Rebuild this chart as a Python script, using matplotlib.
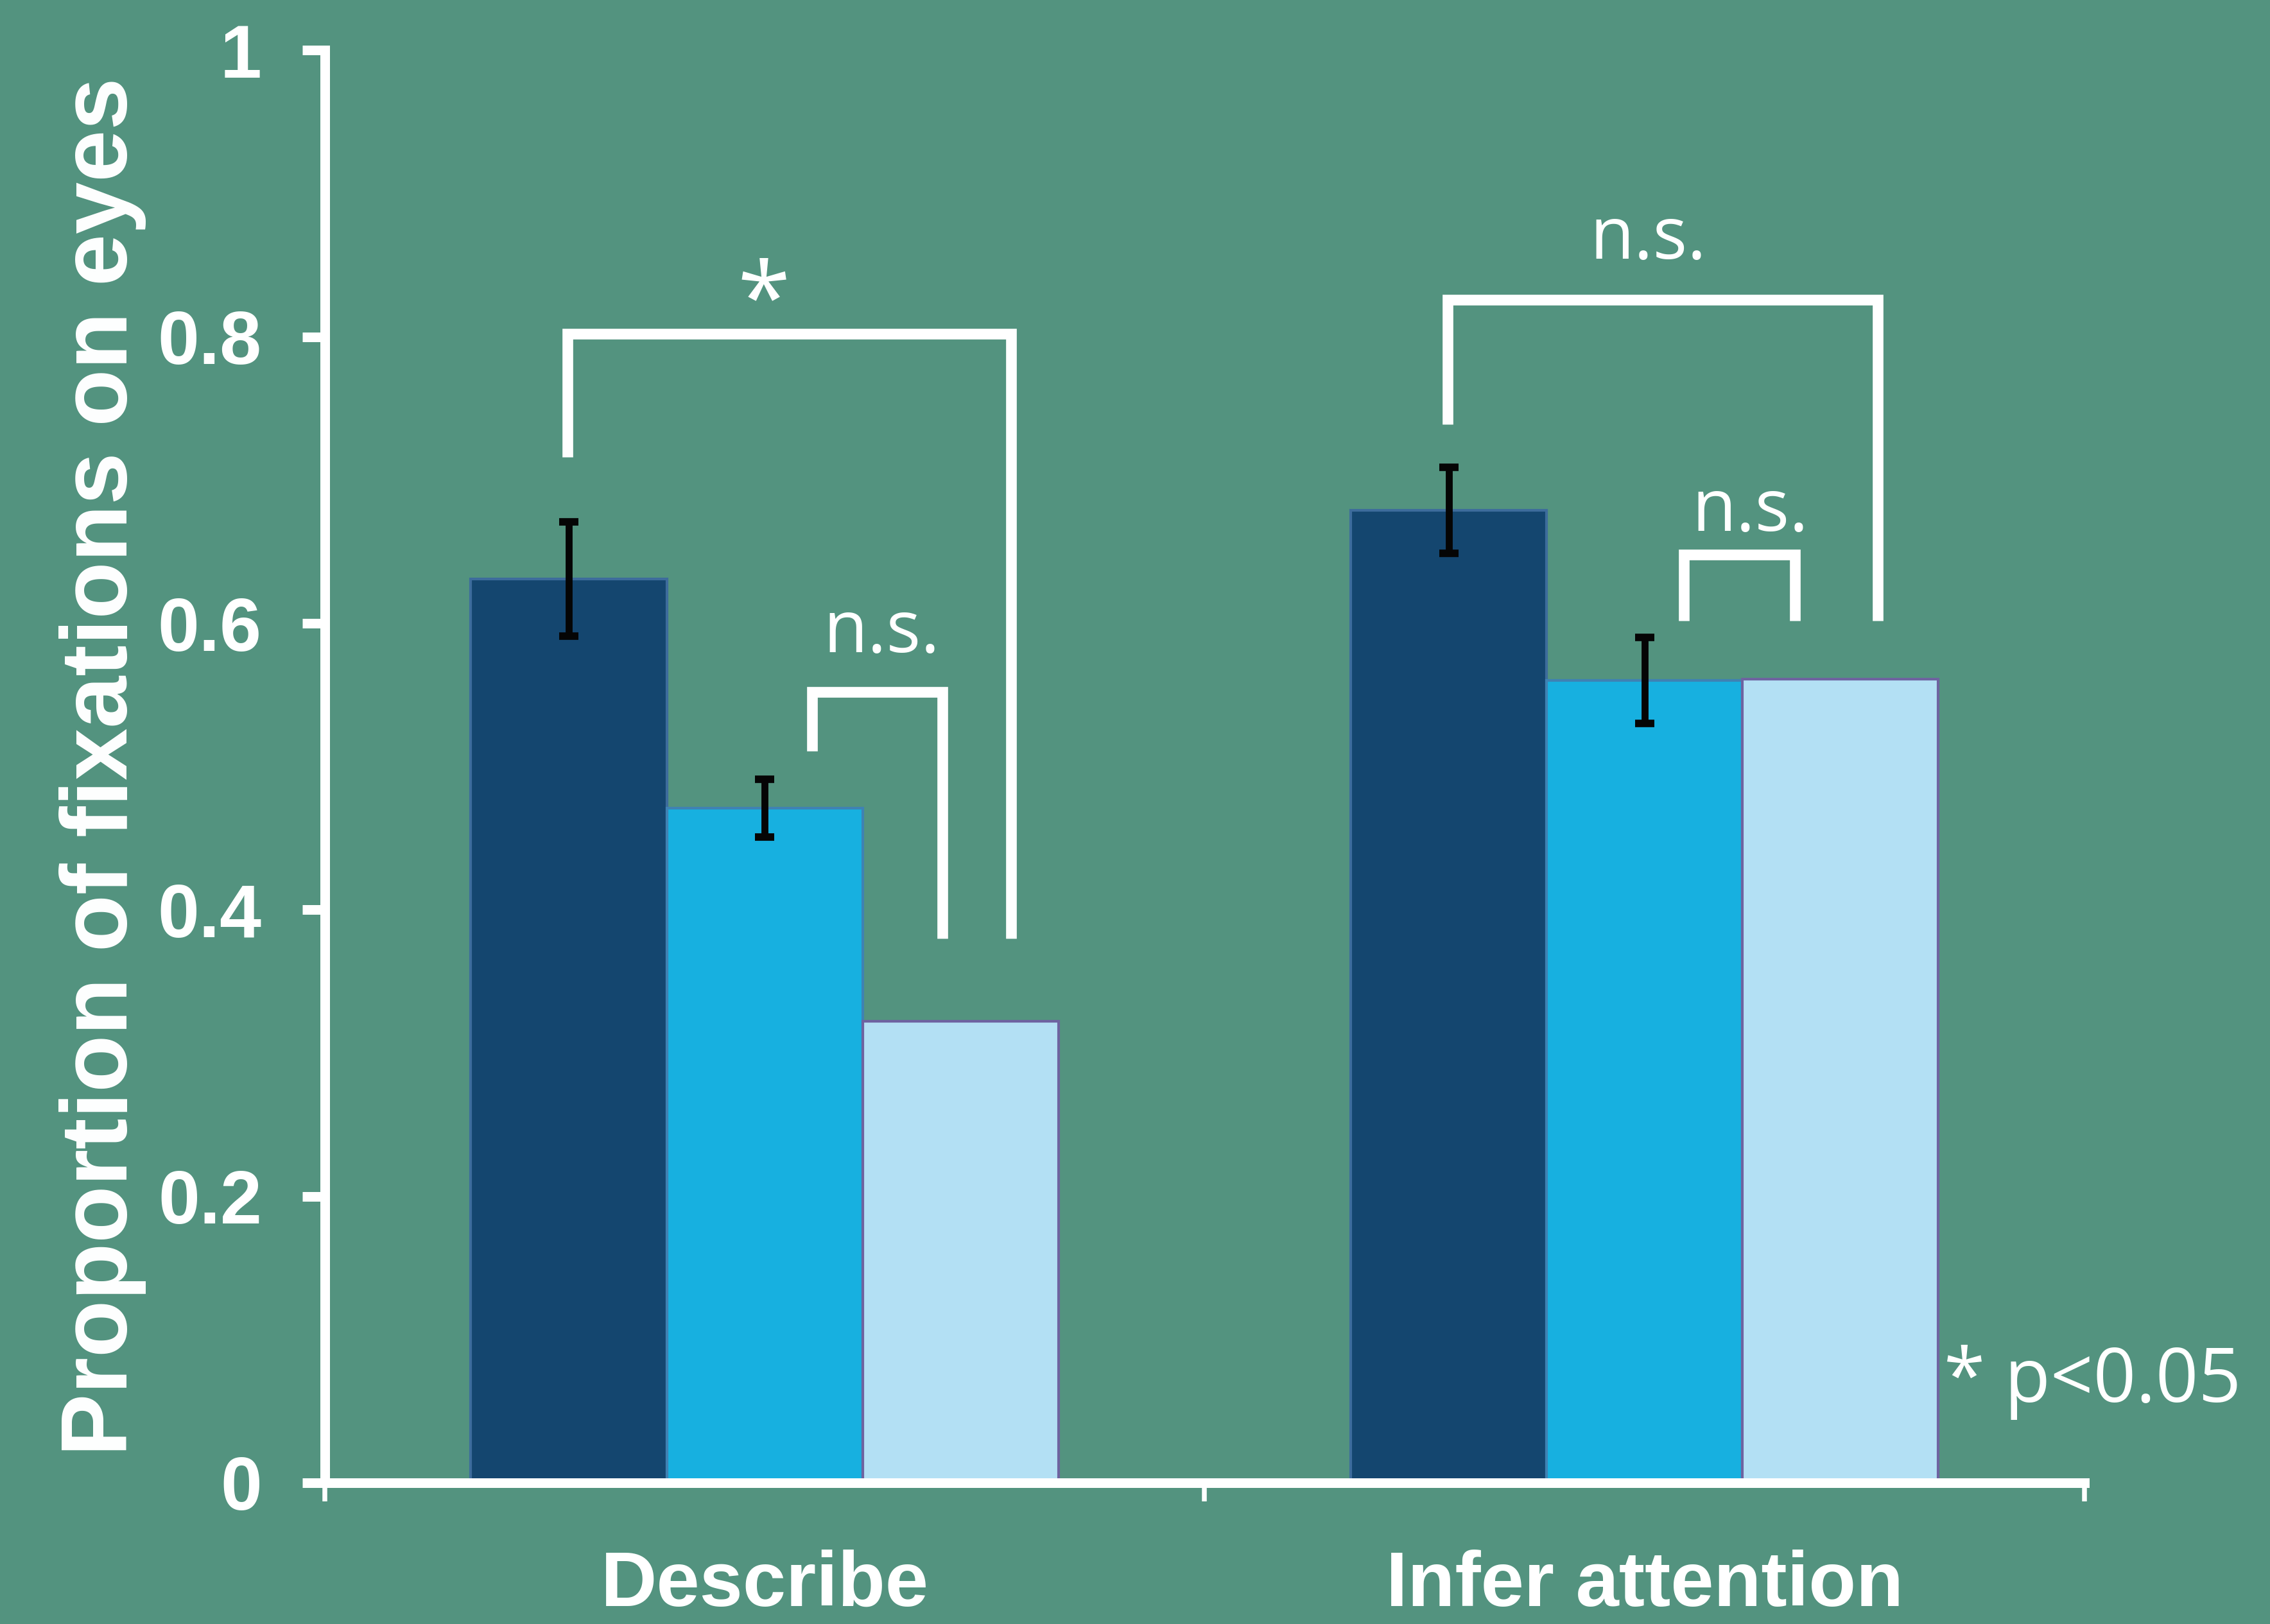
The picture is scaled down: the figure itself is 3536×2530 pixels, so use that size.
import numpy as np
import matplotlib.pyplot as plt

# data
groups = ['Describe', 'Infer attention']
means_dark = [0.631, 0.679]
means_mid = [0.471, 0.560]
means_light = [0.322, 0.561]
err_dark = [0.040, 0.030]
err_mid = [0.020, 0.030]

BG = '#53937f'
C_DARK = '#14466f'
C_MID = '#17b0e0'
C_LIGHT = '#b3e0f4'
NARROW = ['Liberation Sans Narrow', 'Liberation Sans', 'DejaVu Sans']
LABEL_FONT = ['Open Sans', 'DejaVu Sans']

fig = plt.figure(figsize=(3537 / 300, 2530 / 300), dpi=300, facecolor=BG)
ax = fig.add_axes([0.143, 0.087, 0.775, 0.882])
ax.set_facecolor(BG)

centers = np.array([0.5, 1.5])
w = 0.2226

ax.bar(centers - w, means_dark, w, color=C_DARK, edgecolor='#3d6c9c', linewidth=1.0, zorder=2)
ax.bar(centers, means_mid, w, color=C_MID, edgecolor='#3f82b3', linewidth=1.0, zorder=2)
ax.bar(centers + w, means_light, w, color=C_LIGHT, edgecolor='#6e63a0', linewidth=1.0, zorder=2)

ekw = dict(fmt='none', ecolor='#050505', elinewidth=2.6, capsize=3.6, capthick=2.8, zorder=3)
ax.errorbar(centers - w, means_dark, yerr=err_dark, **ekw)
ax.errorbar(centers, means_mid, yerr=err_mid, **ekw)

# significance brackets
brackets = [
    ([0.276, 0.276, 0.780, 0.780], [0.716, 0.802, 0.802, 0.380]),
    ([0.554, 0.554, 0.702, 0.702], [0.511, 0.552, 0.552, 0.380]),
    ([1.276, 1.276, 1.765, 1.765], [0.739, 0.826, 0.826, 0.602]),
    ([1.545, 1.545, 1.671, 1.671], [0.602, 0.648, 0.648, 0.602]),
]
for bx, by in brackets:
    ax.plot(bx, by, color='white', lw=4.0, solid_joinstyle='miter', solid_capstyle='butt', zorder=4)

tkw = dict(color='white', ha='center', va='center', family=LABEL_FONT)
ax.text(0.499, 0.822, '*', fontsize=36, **tkw)
ax.text(0.633, 0.593, 'n.s.', fontsize=27, **tkw)
ax.text(1.504, 0.868, 'n.s.', fontsize=27, **tkw)
ax.text(1.620, 0.678, 'n.s.', fontsize=27, **tkw)
ax.text(1.840, 0.070, '* p<0.05', fontsize=28, color='white', ha='left', va='center',
        family=LABEL_FONT)

ax.set_xlim(0, 2)
ax.set_ylim(0, 1)

for side in ['top', 'right']:
    ax.spines[side].set_visible(False)
for side in ['left', 'bottom']:
    ax.spines[side].set_color('white')
    ax.spines[side].set_linewidth(3.6)

ax.set_yticks([0, 0.2, 0.4, 0.6, 0.8, 1.0])
ax.set_yticklabels(['0', '0.2', '0.4', '0.6', '0.8', '1'])
ax.tick_params(axis='y', colors='white', length=8.5, width=3.6, pad=15, labelsize=28)
for lab in ax.get_yticklabels():
    lab.set_family(NARROW)
    lab.set_fontweight('bold')

ax.set_xticks([0, 1, 2])
ax.set_xticklabels(['', '', ''])
ax.tick_params(axis='x', which='major', colors='white', length=7, width=1.8)
ax.set_xticks(centers, minor=True)
ax.set_xticklabels(groups, minor=True)
ax.tick_params(axis='x', which='minor', length=0, pad=25, labelsize=29, labelcolor='white')
for lab in ax.get_xticklabels(minor=True):
    lab.set_family(NARROW)
    lab.set_fontweight('bold')

ax.set_ylabel('Proportion of fixations on eyes', color='white', fontsize=35,
              fontweight='bold', family=['Liberation Sans', 'DejaVu Sans'])
ax.yaxis.set_label_coords(-0.126, 0.5)
ax.yaxis.label.set_va('center')

fig.savefig('out.png', dpi=300, facecolor=BG)
